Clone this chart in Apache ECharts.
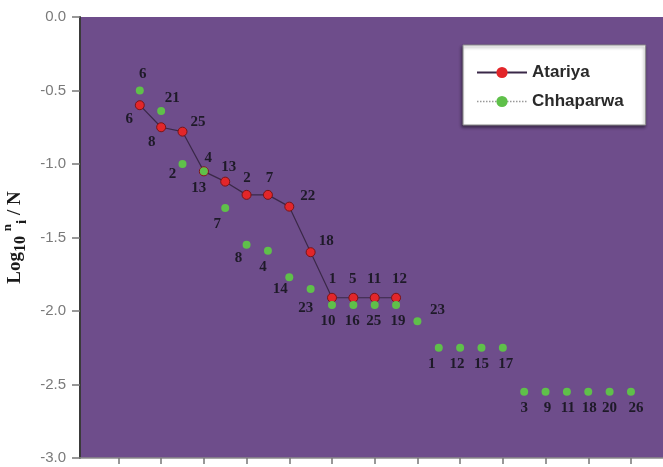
<!DOCTYPE html>
<html>
<head>
<meta charset="utf-8">
<script src="https://cdn.jsdelivr.net/npm/echarts@6/dist/echarts.min.js"></script>
<style>
html,body{margin:0;padding:0;background:#fff;}
#chart{width:663px;height:467px;}
</style>
</head>
<body>
<div id="chart"></div>
<script>
// ---- data ----
var atariyaX = [1,2,3,4,5,6,7,8,9,10,11,12,13];
var atariyaY = [-0.60,-0.75,-0.78,-1.05,-1.12,-1.21,-1.21,-1.29,-1.60,-1.91,-1.91,-1.91,-1.91];
var atariyaLabels = ['6','8','25','4','13','2','7','22','18','1','5','11','12'];

var chhaparwaX = [1,2,3,4,5,6,7,8,9,10,11,12,13,14,15,16,17,18,19,20,21,22,23,24];
var chhaparwaY = [-0.50,-0.64,-1.00,-1.05,-1.30,-1.55,-1.59,-1.77,-1.85,-1.96,-1.96,-1.96,-1.96,-2.07,-2.25,-2.25,-2.25,-2.25,-2.55,-2.55,-2.55,-2.55,-2.55,-2.55];
var chhaparwaLabels = ['6','21','2','13','7','8','4','14','23','10','16','25','19','23','1','12','15','17','3','9','11','18','20','26'];

var yTicks = [0,-0.5,-1.0,-1.5,-2.0,-2.5,-3.0];
var xTickValues = [0,2,4,6,8,10,12,14,16,18,20,22,24];

// ---- label layout (pixel offsets from each mark) ----
var atariyaLabelOffsets = [[-10,14],[-9,15],[16,-9],[5,-13],[4,-14],[1,-16],[2,-16],[19,-10],[16,-11],[1,-18],[0,-18],[0,-18],[4,-18]];
var chhaparwaLabelOffsets = [[3,-16],[11,-13],[-10,10],[-5,17],[-8,16],[-8,13],[-5,16],[-9,12],[-5,19],[-4,16],[-1,16],[-1,16],[2,16],[20,-11],[-7,16],[-3,16],[0,16],[3,16],[0,16],[2,16],[1,16],[1,16],[0,16],[5,16]];

var serif = '"Liberation Serif","Times New Roman",serif';
var labelFont = {fontFamily:serif, fontWeight:'bold', fontSize:15, color:'#1e1a28'};

function buildData(xs, ys, labels, offsets, size){
  return xs.map(function(x,i){
    return {
      value:[x, ys[i]],
      label:Object.assign({show:true, formatter:labels[i],
        position:[size/2 + offsets[i][0], size/2 + offsets[i][1]],
        align:'center', verticalAlign:'middle'}, labelFont)
    };
  });
}

var chart = echarts.init(document.getElementById('chart'), null, {renderer:'canvas'});
chart.setOption({
  animation:false,
  backgroundColor:'#ffffff',
  grid:{left:80, top:17, right:0, bottom:9, show:true, backgroundColor:'#6e4d8b', borderWidth:0, containLabel:false, outerBoundsMode:'none'},
  legend:{
    left:463, top:45, orient:'vertical',
    backgroundColor:'#ffffff', borderColor:'#8a8a8a', borderWidth:1,
    shadowColor:'rgba(0,0,0,0.45)', shadowBlur:3, shadowOffsetX:-1, shadowOffsetY:2,
    padding:[19,22,15,13], itemGap:12, itemWidth:50, itemHeight:14,
    textStyle:{fontFamily:'"Liberation Sans",Arial,sans-serif', fontWeight:'bold', fontSize:17, color:'#2a2a2a'},
    data:[
      {name:'Atariya', itemStyle:{borderWidth:0}},
      {name:'Chhaparwa', lineStyle:{type:'dotted', color:'#999999', width:1.5, opacity:1}}
    ]
  },
  xAxis:{
    type:'value', min:-1.8, max:25.5,
    axisLine:{show:true, onZero:false, lineStyle:{color:'#8a8a8a', width:1.5}},
    axisTick:{show:true, inside:false, length:6, customValues:xTickValues, lineStyle:{color:'#777777', width:1.5}},
    axisLabel:{show:false},
    splitLine:{show:false}
  },
  yAxis:{
    type:'value', min:-3, max:0, interval:0.5,
    axisLine:{show:true, onZero:false, lineStyle:{color:'#3a3a3a', width:2}},
    axisTick:{show:true, inside:false, length:8, lineStyle:{color:'#777777', width:1.5}},
    axisLabel:{margin:14, fontFamily:'"Liberation Sans",Arial,sans-serif', fontSize:15, color:'#7a7a7a',
      formatter:function(v){ return yTicks.indexOf(v) >= 0 ? v.toFixed(1) : ''; }},
    splitLine:{show:false},
    name:'{a|Log}{b|10}{a| }{c|n}{d|i}{a| / N}',
    nameLocation:'middle', nameGap:45, nameRotate:90,
    nameTextStyle:{
      rich:{
        a:{fontFamily:serif, fontWeight:'bold', fontSize:19, color:'#1a1a1a', lineHeight:28, verticalAlign:'middle'},
        b:{fontFamily:serif, fontWeight:'bold', fontSize:16, color:'#1a1a1a', verticalAlign:'bottom', padding:[8,0,0,0]},
        c:{fontFamily:serif, fontWeight:'bold', fontSize:13, color:'#1a1a1a', verticalAlign:'top', padding:[0,0,10,0]},
        d:{fontFamily:serif, fontWeight:'bold', fontSize:15, color:'#1a1a1a', verticalAlign:'bottom', padding:[6,0,0,0]}
      }
    }
  },
  series:[
    {
      name:'Chhaparwa', type:'line', z:3,
      data:buildData(chhaparwaX, chhaparwaY, chhaparwaLabels, chhaparwaLabelOffsets, 8),
      symbol:'circle', symbolSize:8,
      itemStyle:{color:'#5fc04a', borderWidth:0},
      lineStyle:{opacity:0, width:0},
      labelLayout:{hideOverlap:false}
    },
    {
      name:'Atariya', type:'line', z:2,
      data:buildData(atariyaX, atariyaY, atariyaLabels, atariyaLabelOffsets, 9),
      symbol:'circle', symbolSize:9,
      itemStyle:{color:'#e3262a', borderColor:'#7a1418', borderWidth:1},
      lineStyle:{color:'#3a2848', width:1.2},
      labelLayout:{hideOverlap:false}
    }
  ]
});
</script>
</body>
</html>
